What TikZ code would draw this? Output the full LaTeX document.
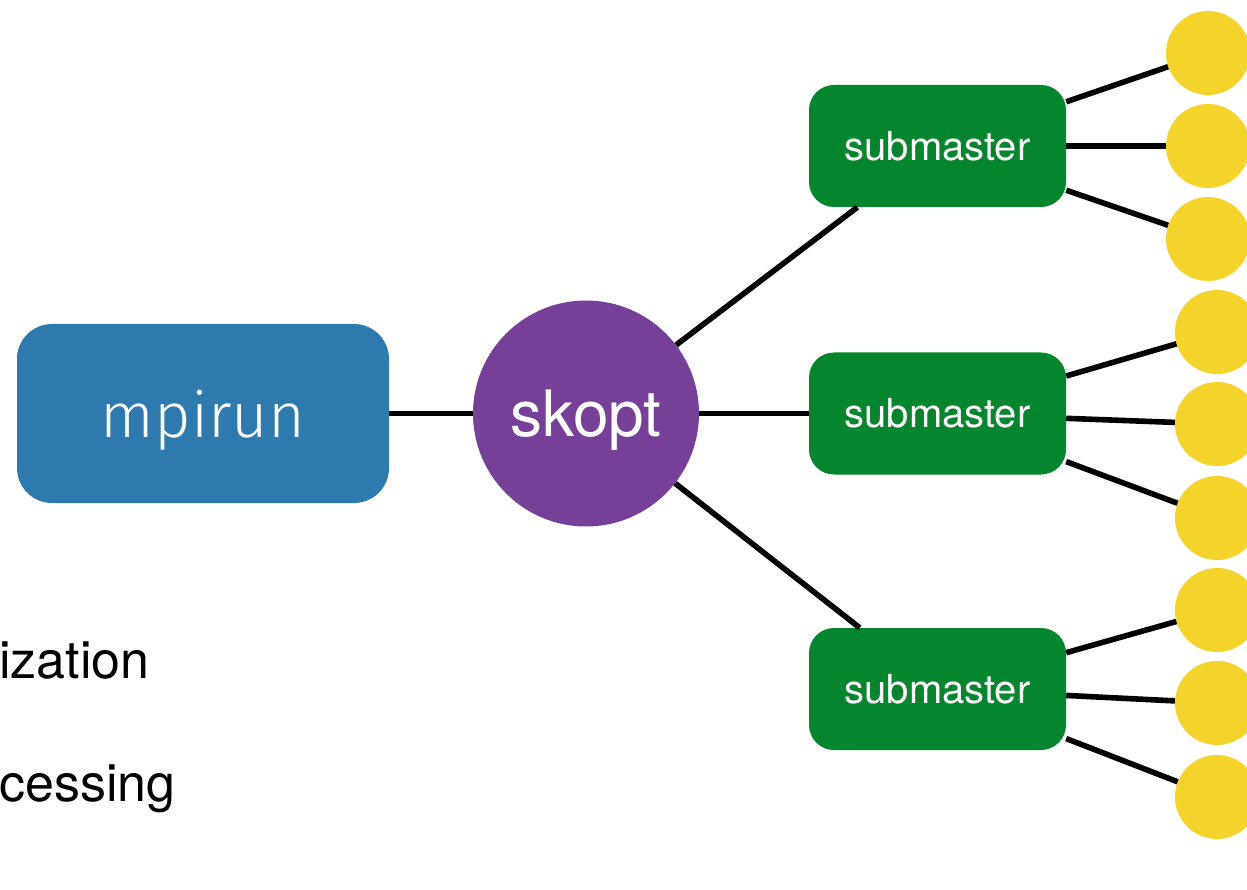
\documentclass[tikz,border=0pt]{standalone}
\usepackage{fontspec}
\setmainfont{TeX Gyre Heros}
\newfontfamily\mpifont{Fira Sans Light}
\definecolor{mpiblue}{HTML}{2E7AAF}
\definecolor{skpurple}{HTML}{763F98}
\definecolor{subgreen}{HTML}{05852D}
\definecolor{workyellow}{HTML}{F4D32A}
\begin{document}
\begin{tikzpicture}[x=1pt,y=-1pt,
  conn/.style={line width=5.6pt, draw=black},
  mpibox/.style={fill=mpiblue, rounded corners=35pt, minimum width=372pt, minimum height=179pt,
    inner sep=0pt, text=white, text depth=0pt, font=\mpifont\fontsize{63}{70}\selectfont},
  skoptnode/.style={circle, fill=skpurple, minimum size=226pt, inner sep=0pt, text=white,
    text depth=0pt, font=\fontsize{64}{70}\selectfont},
  subbox/.style={fill=subgreen, rounded corners=25pt, minimum width=257pt, minimum height=122pt,
    inner sep=0pt, text=white, font=\fontsize{40}{46}\selectfont},
  worker/.style={circle, fill=workyellow, minimum size=84pt, inner sep=0pt},
  sidetext/.style={anchor=base west, inner sep=0pt, font=\fontsize{52}{60}\selectfont}
]
\useasboundingbox (0,0) rectangle (1247,890);
\clip (0,0) rectangle (1247,890);

\node[mpibox] (mpirun) at (203,413.5) {mpirun};
\node[skoptnode] (skopt) at (586,413.5) {skopt};
\node[subbox] (sm1) at (937.5,146) {submaster};
\node[subbox] (sm2) at (937.5,413.5) {submaster};
\node[subbox] (sm3) at (937.5,689) {submaster};

\node[worker] (w11) at (1208,53) {};
\node[worker] (w12) at (1208,146) {};
\node[worker] (w13) at (1208,239) {};
\node[worker] (w21) at (1217,332) {};
\node[worker] (w22) at (1217,424) {};
\node[worker] (w23) at (1217,518) {};
\node[worker] (w31) at (1217,610) {};
\node[worker] (w32) at (1217,703) {};
\node[worker] (w33) at (1217,797) {};

\node[sidetext] (t1) at (-1,678) {ization};
\node[sidetext] (t2) at (-1,801) {cessing};

\draw[conn] (mpirun) -- (skopt);
\draw[conn] (skopt) -- (sm1);
\draw[conn] (skopt) -- (sm2);
\draw[conn] (skopt) -- (sm3);
\draw[conn] (sm1) -- (w11);
\draw[conn] (sm1) -- (w12);
\draw[conn] (sm1) -- (w13);
\draw[conn] (sm2) -- (w21);
\draw[conn] (sm2) -- (w22);
\draw[conn] (sm2) -- (w23);
\draw[conn] (sm3) -- (w31);
\draw[conn] (sm3) -- (w32);
\draw[conn] (sm3) -- (w33);
\end{tikzpicture}
\end{document}
